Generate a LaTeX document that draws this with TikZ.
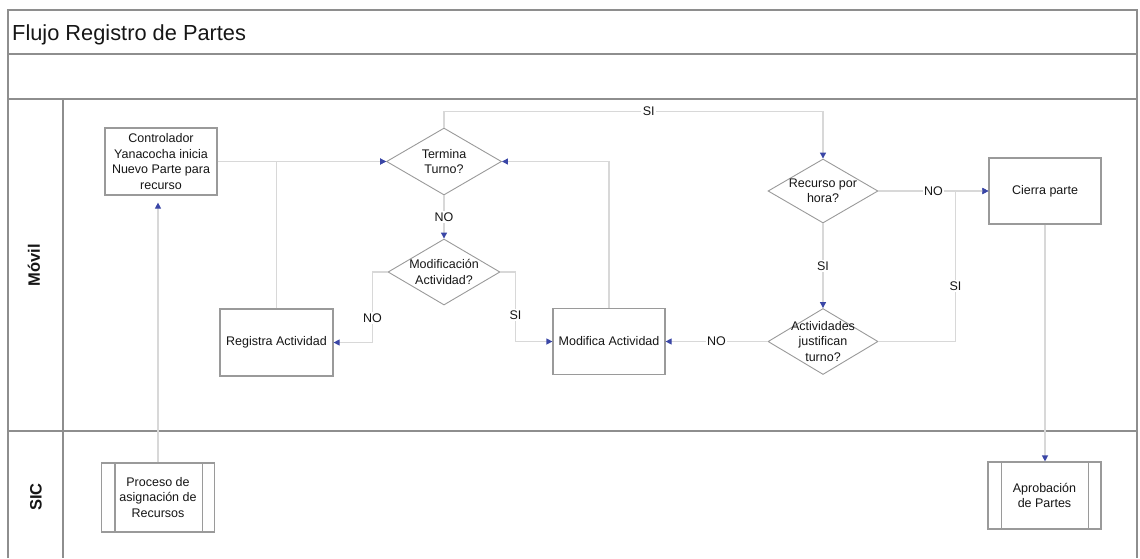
\documentclass[tikz,border=0pt]{standalone}
\usepackage{fontspec}
\setmainfont{Liberation Sans}
\usetikzlibrary{shapes.geometric,arrows.meta,calc}
\definecolor{framegray}{HTML}{8E8E8E}
\definecolor{boxgray}{HTML}{9A9A9A}
\definecolor{flowgray}{HTML}{D8D8D8}
\definecolor{tipblue}{HTML}{3A46A6}
\definecolor{inkgray}{HTML}{161616}

\begin{document}
\begin{tikzpicture}[x=1pt,y=-1pt,
  every node/.style={font=\fontsize{12.5}{15.5}\selectfont, text=inkgray},
  stepbox/.style={draw=boxgray, line width=1.2pt, fill=white, minimum width=112pt,
    minimum height=67pt, inner sep=0pt, align=center},
  procbox/.style={stepbox, minimum width=113pt, minimum height=69pt},
  decision/.style={diamond, draw=boxgray, line width=0.9pt, fill=white, inner sep=0pt,
    minimum width=112pt, minimum height=66pt},
  dectext/.style={align=center, inner sep=0pt},
  flow/.style={draw=flowgray, line width=1.2pt,
    -{Triangle[length=6pt,width=6pt,color=tipblue]}},
  lbl/.style={fill=white, inner sep=1.5pt},
  lane/.style={draw=framegray, line width=1.5pt},
  lanename/.style={rotate=90, font=\bfseries\fontsize{16.5}{18}\selectfont}]

\useasboundingbox (0,0) rectangle (1140,558);

% swimlane frame
\draw[lane] (8,558) -- (8,10) -- (1137,10) -- (1137,558);
\draw[lane] (8,54) -- (1137,54);
\draw[lane] (8,99) -- (1137,99);
\draw[lane] (8,431) -- (1137,431);
\draw[lane] (63,99) -- (63,558);

\node[anchor=base west, inner sep=0pt, font=\fontsize{21.8}{24}\selectfont] (title) at (12,40) {Flujo Registro de Partes};
\node[lanename] (movil) at (34,265) {Móvil};
\node[lanename] (sic) at (36,497) {SIC};

% process steps
\node[stepbox] (ctrl) at (161,161.5) {Controlador\\Yanacocha inicia\\Nuevo Parte para\\recurso};
\node[stepbox, minimum width=113pt] (reg) at (276.5,342.5) {Registra Actividad};
\node[stepbox, minimum height=66pt] (mod) at (609,341.5) {Modifica Actividad};
\node[stepbox, minimum height=66pt] (cierra) at (1045,191) {Cierra parte};

% predefined processes
\node[procbox] (proc) at (158,497.5) {Proceso de\\asignación de\\Recursos};
\node[procbox, minimum height=67pt] (aprob) at (1044.5,495.5) {Aprobación\\de Partes};
\foreach \p in {proc,aprob}{
  \draw[boxgray, line width=1.2pt] ([xshift=14pt]\p.north west) -- ([xshift=14pt]\p.south west);
  \draw[boxgray, line width=1.2pt] ([xshift=-13pt]\p.north east) -- ([xshift=-13pt]\p.south east);
}

% decisions
\node[decision, minimum width=115pt, minimum height=67pt] (term) at (444,161.5) {};
\node[dectext] (termt) at (term) {Termina\\Turno?};
\node[decision] (modif) at (444,272) {};
\node[dectext] (modift) at (modif) {Modificación\\Actividad?};
\node[decision, minimum width=110pt, minimum height=64pt] (recurso) at (823,191) {};
\node[dectext] (recursot) at (recurso) {Recurso por\\hora?};
\node[decision, minimum width=110pt] (activ) at (823,341.5) {};
\node[dectext] (activt) at (activ) {Actividades\\justifican\\turno?};

% connectors
\draw[flow] (ctrl.east) -- (term.west);
\draw[flow] (reg.north) -- (reg.north |- term.west) -- (term.west);
\draw[flow] (mod.north) -- (mod.north |- term.east) -- (term.east);
\draw[flow] (term.north) -- ++(0,-16) -- node[lbl, pos=0.54] {SI} ++(379,0) -- (recurso.north);
\draw[flow] (term.south) -- node[lbl] {NO} (modif.north);
\draw[flow] (modif.west) -- ++(-15,0) |- node[lbl, pos=0.325] {NO} (reg.east);
\draw[flow] (modif.east) -- ++(15,0) |- node[lbl, pos=0.31] {SI} (mod.west);
\draw[flow] (recurso.east) -- node[lbl] {NO} (cierra.west);
\draw[flow] (recurso.south) -- node[lbl] {SI} (activ.north);
\draw[flow] (activ.west) -- node[lbl] {NO} (mod.east);
\draw[flow] (activ.east) -- ++(77,0) |- node[lbl, pos=0.185] {SI} (cierra.west);
\draw[flow, shorten >=7pt] (proc.north) -- (proc.north |- ctrl.south);
\draw[flow] (cierra.south) -- (cierra.south |- aprob.north);

\end{tikzpicture}
\end{document}
